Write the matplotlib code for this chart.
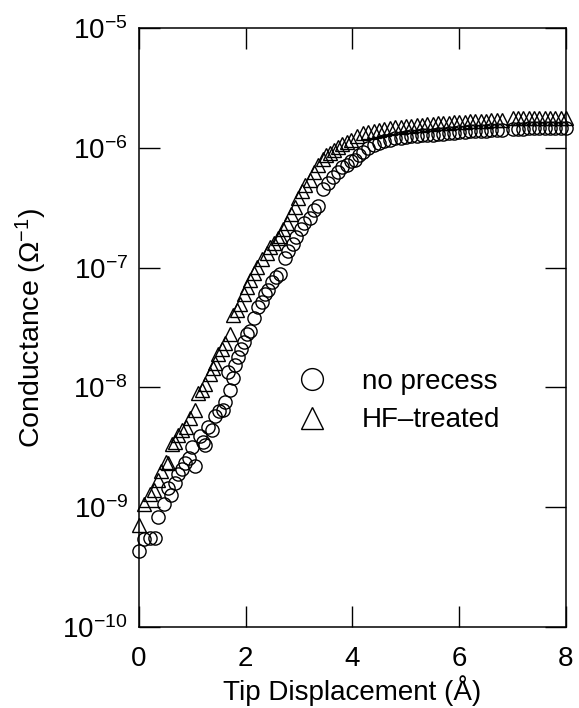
import matplotlib.pyplot as plt
from matplotlib.ticker import NullLocator, FixedLocator

plt.rcParams['font.family'] = ['Liberation Sans', 'DejaVu Sans']
plt.rcParams['mathtext.default'] = 'regular'

# no precess (circles)
x_np = [0.00, 0.10, 0.20, 0.30, 0.36, 0.46, 0.55, 0.60, 0.67, 0.74, 0.80, 0.86, 0.93, 0.99,
        1.05, 1.14, 1.20, 1.24, 1.30, 1.36, 1.42, 1.50, 1.58, 1.61, 1.67, 1.70, 1.76, 1.80,
        1.86, 1.92, 1.97, 2.02, 2.08, 2.15, 2.23, 2.30, 2.36, 2.42, 2.50, 2.57, 2.64, 2.73,
        2.80, 2.88, 2.95, 3.03, 3.10, 3.20, 3.28, 3.36, 3.45, 3.55, 3.64, 3.72, 3.80, 3.89,
        3.97, 4.04, 4.12, 4.20, 4.30, 4.40, 4.50, 4.60, 4.70, 4.80, 4.90, 5.00, 5.10, 5.20,
        5.30, 5.40, 5.50, 5.60, 5.70, 5.80, 5.90, 6.00, 6.10, 6.20, 6.30, 6.40, 6.50, 6.60,
        6.70, 6.80, 7.00, 7.10, 7.20, 7.30, 7.40, 7.50, 7.60, 7.70, 7.80, 7.90, 8.00]
g_np = [4.3e-10, 5.4e-10, 5.5e-10, 5.5e-10, 8.3e-10, 1.07e-9, 1.45e-9, 1.26e-9, 1.6e-9, 1.9e-9,
        2.1e-9, 2.35e-9, 2.6e-9, 3.2e-9, 2.2e-9, 3.9e-9, 3.5e-9, 3.3e-9, 4.7e-9, 4.4e-9,
        5.8e-9, 6.3e-9, 6.5e-9, 7.6e-9, 1.35e-8, 9.5e-9, 1.2e-8, 1.55e-8, 1.8e-8, 2.1e-8,
        2.4e-8, 2.8e-8, 2.95e-8, 3.8e-8, 4.7e-8, 5.2e-8, 6.0e-8, 6.5e-8, 7.6e-8, 8.3e-8,
        8.9e-8, 1.2e-7, 1.38e-7, 1.58e-7, 1.8e-7, 2.1e-7, 2.35e-7, 2.6e-7, 3.0e-7, 3.3e-7,
        4.5e-7, 5.1e-7, 5.75e-7, 6.3e-7, 6.9e-7, 7.2e-7, 7.8e-7, 7.9e-7, 8.7e-7, 9.3e-7,
        1.0e-6, 1.05e-6, 1.1e-6, 1.15e-6, 1.17e-6, 1.2e-6, 1.2e-6, 1.23e-6, 1.25e-6, 1.26e-6,
        1.27e-6, 1.28e-6, 1.29e-6, 1.3e-6, 1.31e-6, 1.32e-6, 1.33e-6, 1.35e-6, 1.36e-6, 1.37e-6,
        1.38e-6, 1.38e-6, 1.39e-6, 1.4e-6, 1.41e-6, 1.41e-6, 1.44e-6, 1.44e-6, 1.44e-6, 1.45e-6,
        1.45e-6, 1.45e-6, 1.45e-6, 1.45e-6, 1.45e-6, 1.45e-6, 1.45e-6]

# HF-treated (triangles)
x_hf = [0.00, 0.10, 0.21, 0.28, 0.36, 0.42, 0.50, 0.55, 0.61, 0.68, 0.74, 0.80, 0.89, 0.96,
        1.05, 1.11, 1.18, 1.24, 1.33, 1.38, 1.42, 1.48, 1.55, 1.61, 1.70, 1.77, 1.84, 1.90,
        1.97, 2.02, 2.08, 2.15, 2.22, 2.30, 2.39, 2.46, 2.53, 2.60, 2.64, 2.70, 2.77, 2.85,
        2.92, 2.98, 3.05, 3.12, 3.20, 3.28, 3.36, 3.44, 3.50, 3.58, 3.65, 3.72, 3.80, 3.89,
        3.97, 4.08, 4.20, 4.30, 4.40, 4.50, 4.60, 4.70, 4.80, 4.90, 5.00, 5.10, 5.20, 5.30,
        5.40, 5.50, 5.60, 5.70, 5.80, 5.90, 6.00, 6.10, 6.20, 6.30, 6.40, 6.50, 6.60, 6.70,
        6.80, 7.00, 7.10, 7.20, 7.30, 7.40, 7.50, 7.60, 7.70, 7.80, 7.90, 8.00]
g_hf = [7.1e-10, 1.07e-9, 1.3e-9, 1.4e-9, 1.7e-9, 2.0e-9, 2.4e-9, 2.35e-9, 3.4e-9, 3.5e-9,
        4.0e-9, 4.4e-9, 4.7e-9, 5.6e-9, 6.5e-9, 8.9e-9, 9.5e-9, 1.07e-8, 1.3e-8, 1.45e-8,
        1.6e-8, 1.9e-8, 2.1e-8, 2.35e-8, 2.8e-8, 4.0e-8, 4.4e-8, 5.0e-8, 6.0e-8, 6.9e-8,
        7.9e-8, 9.1e-8, 1.02e-7, 1.17e-7, 1.32e-7, 1.48e-7, 1.62e-7, 1.78e-7, 1.82e-7, 2.1e-7,
        2.35e-7, 2.8e-7, 3.2e-7, 3.8e-7, 4.4e-7, 4.9e-7, 5.4e-7, 6.3e-7, 7.2e-7, 8.1e-7,
        8.7e-7, 9.1e-7, 9.5e-7, 1.02e-6, 1.07e-6, 1.12e-6, 1.17e-6, 1.26e-6, 1.32e-6, 1.35e-6,
        1.38e-6, 1.41e-6, 1.44e-6, 1.46e-6, 1.48e-6, 1.5e-6, 1.51e-6, 1.53e-6, 1.55e-6, 1.56e-6,
        1.57e-6, 1.58e-6, 1.6e-6, 1.61e-6, 1.62e-6, 1.63e-6, 1.64e-6, 1.65e-6, 1.66e-6, 1.67e-6,
        1.68e-6, 1.69e-6, 1.7e-6, 1.7e-6, 1.71e-6, 1.76e-6, 1.76e-6, 1.77e-6, 1.77e-6, 1.77e-6,
        1.78e-6, 1.78e-6, 1.78e-6, 1.78e-6, 1.78e-6, 1.78e-6]

x_ticks = [0, 2, 4, 6, 8]
y_ticks = [1e-10, 1e-9, 1e-8, 1e-7, 1e-6, 1e-5]

fig = plt.figure(figsize=(5.79, 7.08), dpi=100)
ax = fig.add_axes([0.240, 0.1144, 0.7375, 0.846])

ax.plot(x_np, g_np, linestyle='none', marker='o', markersize=9.5, markerfacecolor='none',
        markeredgecolor='black', markeredgewidth=1.0, clip_on=False, label='no precess')
ax.plot(x_hf, g_hf, linestyle='none', marker='^', markersize=10, markerfacecolor='none',
        markeredgecolor='black', markeredgewidth=1.0, clip_on=False, label='HF\u2013treated')

ax.set_yscale('log')
ax.set_xlim(0, 8)
ax.set_ylim(1e-10, 1e-5)
ax.xaxis.set_major_locator(FixedLocator(x_ticks))
ax.yaxis.set_major_locator(FixedLocator(y_ticks))
ax.yaxis.set_minor_locator(NullLocator())
ax.set_yticklabels([r'$10^{%d}$' % e for e in [-10, -9, -8, -7, -6, -5]])

ax.tick_params(which='both', direction='in', top=True, right=True, length=15, width=1.0,
               labelsize=20)
ax.tick_params(axis='x', pad=14)
ax.tick_params(axis='y', pad=8)
for s in ax.spines.values():
    s.set_linewidth(1.1)

ax.set_xlabel('Tip Displacement (\u00c5)', fontsize=20, labelpad=2)
ax.set_ylabel(r'Conductance ($\Omega^{-1}$)', fontsize=20.5, labelpad=10)

ax.legend(loc='upper left', bbox_to_anchor=(0.372, 0.431), frameon=False, fontsize=20,
          numpoints=1, markerscale=1.65, handlelength=1.0, handletextpad=1.3,
          labelspacing=0.45, borderpad=0, borderaxespad=0)

plt.savefig('out.png', dpi=100)
